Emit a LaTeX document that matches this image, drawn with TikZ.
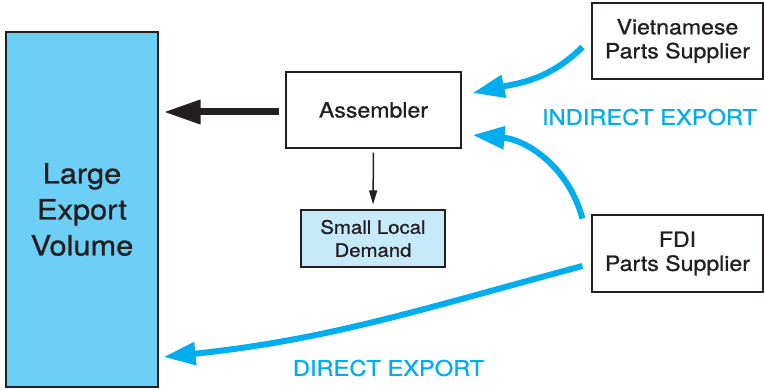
\documentclass[tikz,border=0pt]{standalone}
\usepackage{fontspec}
\setmainfont[FakeStretch=1.1, FakeBold=0.9]{TeX Gyre Heros}
\usetikzlibrary{arrows.meta}

\definecolor{inkgray}{HTML}{231F20}
\definecolor{exportblue}{HTML}{00AEEF}
\definecolor{bigfill}{HTML}{6DCFF6}
\definecolor{smallfill}{HTML}{C7EAFB}

\tikzset{
    partbox/.style={draw=inkgray, line width=1.2pt, text=inkgray, align=center, inner sep=0pt},
    flowblue/.style={exportblue, line width=6pt, -{Triangle[length=32pt,width=22pt]}},
    flowlabel/.style={text=exportblue, font=\fontsize{21.5}{24}\selectfont}
}

\begin{document}
\begin{tikzpicture}[x=1pt, y=-1pt]
    \useasboundingbox (0,0) rectangle (764,390);

    % Draw the boxes
    \node[partbox, fill=bigfill, minimum width=152pt, minimum height=355pt,
          font=\fontsize{28}{36}\selectfont] (large) at (82,209.5) {Large\\Export\\Volume};
    \node[partbox, minimum width=175pt, minimum height=76pt,
          font=\fontsize{21}{24}\selectfont] (asm) at (373.5,110) {Assembler};
    \node[partbox, fill=smallfill, minimum width=144pt, minimum height=57pt,
          font=\fontsize{18.5}{23}\selectfont] (local) at (373,238.5) {Small Local\\Demand};
    \node[partbox, minimum width=171pt, minimum height=76pt,
          font=\fontsize{21}{24}\selectfont] (viet) at (677.5,41) {Vietnamese\\Parts Supplier};
    \node[partbox, minimum width=171pt, minimum height=77pt,
          font=\fontsize{21}{24}\selectfont] (fdi) at (677.5,253.5) {FDI\\Parts Supplier};

    % Draw the black arrows out of the assembler
    \draw[inkgray, line width=7pt, -{Triangle[length=37pt,width=23pt]}, shorten <=6pt, shorten >=5pt]
        ([yshift=-2pt]asm.west) -- ([yshift=-2pt]asm.west -| large.east);
    \draw[inkgray, line width=1.5pt, -{Triangle[length=14pt,width=8pt]}, shorten <=4pt, shorten >=5pt]
        (asm.south) -- (local.north);

    % Draw the blue export arrows
    \draw[flowblue] ([xshift=-9pt,yshift=-6pt]viet.west)
        to[out=-135, in=12] ([xshift=11pt,yshift=17pt]asm.east);
    \draw[flowblue] ([xshift=-9pt,yshift=35pt]fdi.west)
        to[out=105, in=-5] ([xshift=11pt,yshift=-25pt]asm.east);
    \draw[flowblue] ([xshift=-9pt,yshift=-12.5pt]fdi.west)
        to[out=195, in=6] ([xshift=5pt,yshift=-147.5pt]large.east);

    % Labels of the two export routes
    \node[flowlabel] (indirect) at (649.5,117) {INDIRECT EXPORT};
    \node[flowlabel] (direct) at (388.5,368) {DIRECT EXPORT};
\end{tikzpicture}
\end{document}
